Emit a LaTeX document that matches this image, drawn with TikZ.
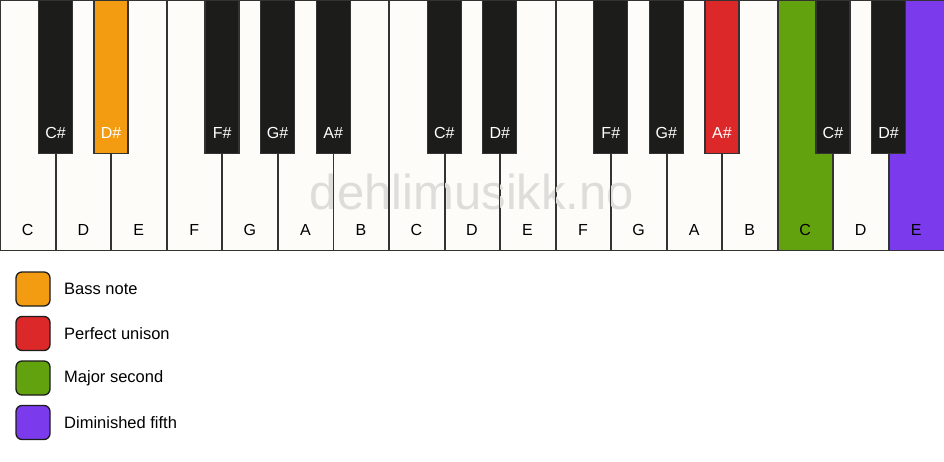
\documentclass[tikz,border=0pt]{standalone}
\usepackage{fontspec}
\setmainfont{Liberation Sans}
\definecolor{ivory}{HTML}{FDFCF9}
\definecolor{keyblack}{HTML}{1C1C1B}
\definecolor{edge}{HTML}{333333}
\definecolor{bassorange}{HTML}{F39C12}
\definecolor{unisonred}{HTML}{DC2828}
\definecolor{secondgreen}{HTML}{63A20F}
\definecolor{fifthpurple}{HTML}{7C3AED}
\definecolor{wmgray}{HTML}{DEDDDA}
\tikzset{
  whitekey/.style={draw=edge, line width=1.3pt, fill=ivory, minimum width=55.53pt, minimum height=250pt, inner sep=0pt, anchor=north west},
  blackkey/.style={draw=edge, line width=1.3pt, fill=keyblack, minimum width=34pt, minimum height=153pt, inner sep=0pt, anchor=north},
  wlabel/.style={font=\fontsize{16}{18}\selectfont, text=black},
  blabel/.style={font=\fontsize{16}{18}\selectfont, text=white},
  legbox/.style={draw=keyblack, line width=1.3pt, rounded corners=6pt, minimum width=34pt, minimum height=34pt, inner sep=0pt},
  legtext/.style={font=\fontsize{16.5}{18}\selectfont, anchor=west, inner sep=0pt, text=black},
  watermark/.style={font=\fontsize{49}{52}\selectfont, text=wmgray}
}
\begin{document}
\begin{tikzpicture}[x=1pt,y=-1pt]
\useasboundingbox (0,0) rectangle (944,461);
\fill[white] (0,0) rectangle (944,461);
% white keys
\foreach \n/\i in {C/0,D/1,E/2,F/3,G/4,A/5,B/6,C/7,D/8,E/9,F/10,G/11,A/12,B/13,C/14,D/15,E/16}{
  \pgfmathsetmacro{\xx}{\i*944/17}
  \ifnum\i=14
    \node[whitekey, fill=secondgreen] (w\i) at (\xx,0) {};
  \else\ifnum\i=16
    \node[whitekey, fill=fifthpurple] (w\i) at (\xx,0) {};
  \else
    \node[whitekey] (w\i) at (\xx,0) {};
  \fi\fi
  \node[wlabel] (lw\i) at (\xx+27.76,230) {\n};
}
% watermark
\node[watermark] (wm) at (472,192) {dehlimusikk.no};
% redraw white key borders over watermark
\foreach \i in {1,...,16}{
  \pgfmathsetmacro{\xx}{\i*944/17}
  \draw[edge, line width=1.3pt] (\xx,0) -- (\xx,250);
}
% black keys
\foreach \n/\i in {C\#/1,D\#/2,F\#/4,G\#/5,A\#/6,C\#/8,D\#/9,F\#/11,G\#/12,A\#/13,C\#/15,D\#/16}{
  \pgfmathsetmacro{\xx}{\i*944/17}
  \ifnum\i=2
    \node[blackkey, fill=bassorange] (b\i) at (\xx,0) {};
  \else\ifnum\i=13
    \node[blackkey, fill=unisonred] (b\i) at (\xx,0) {};
  \else
    \node[blackkey] (b\i) at (\xx,0) {};
  \fi\fi
  \node[blabel] (lb\i) at (\xx,133) {\n};
}
% legend
\node[legbox, fill=bassorange] (k1) at (33,289) {};
\node[legtext] (t1) at (64,289) {Bass note};
\node[legbox, fill=unisonred] (k2) at (33,333.5) {};
\node[legtext] (t2) at (64,333.5) {Perfect unison};
\node[legbox, fill=secondgreen] (k3) at (33,378) {};
\node[legtext] (t3) at (64,378) {Major second};
\node[legbox, fill=fifthpurple] (k4) at (33,422.5) {};
\node[legtext] (t4) at (64,422.5) {Diminished fifth};
\end{tikzpicture}
\end{document}
